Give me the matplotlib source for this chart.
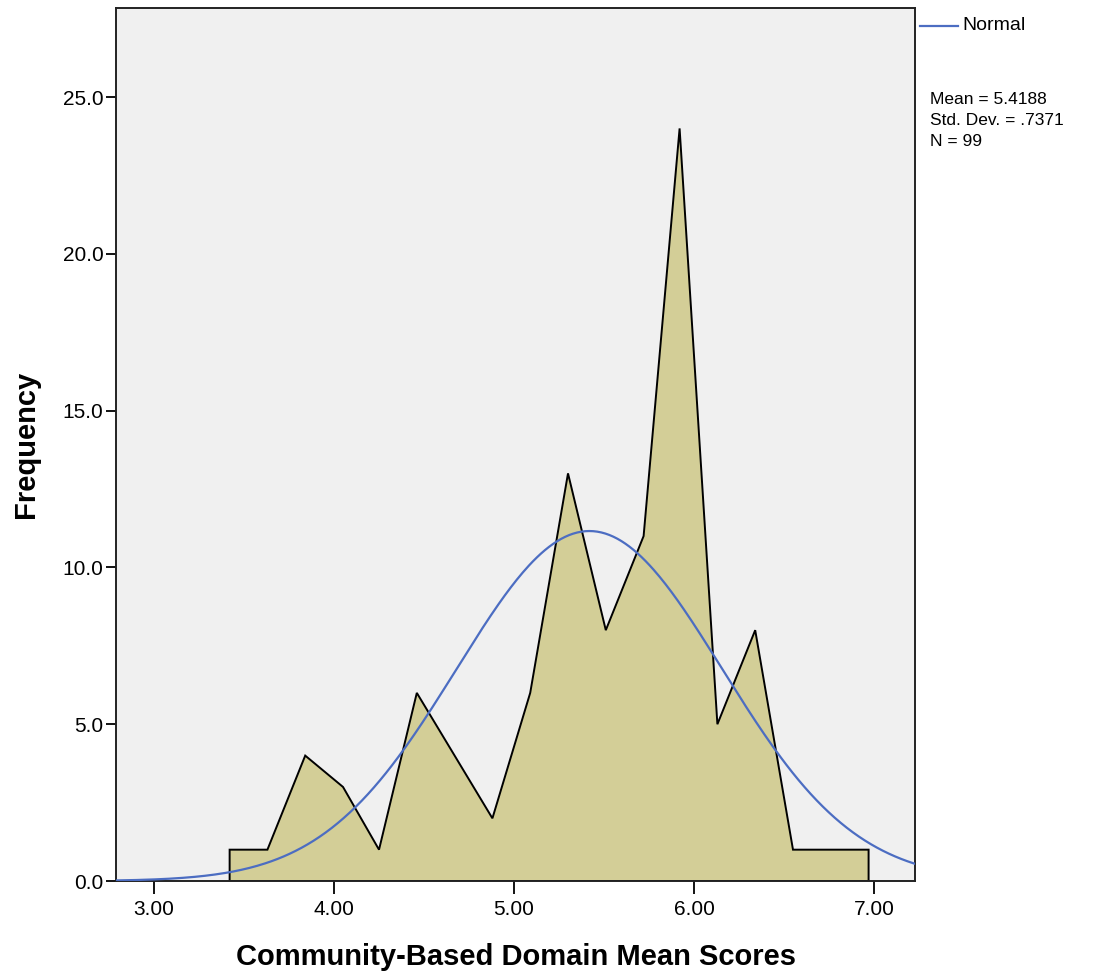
import numpy as np
import matplotlib
matplotlib.use("Agg")
import matplotlib.pyplot as plt

plt.rcParams["font.family"] = ["Liberation Sans", "DejaVu Sans"]

# frequency polygon vertices (mid-points) and counts
mid_points = [3.42, 3.63, 3.84, 4.05, 4.25, 4.46, 4.67, 4.88, 5.09, 5.30,
              5.51, 5.72, 5.92, 6.13, 6.34, 6.55, 6.76, 6.97]
counts = [1, 1, 4, 3, 1, 6, 4, 2, 6, 13, 8, 11, 24, 5, 8, 1, 1, 1]

mean_val = 5.4188
sd_val = 0.7371
n_obs = 99
bin_width = 0.2083

y_ticks = [0, 5, 10, 15, 20, 25]
x_ticks = [3, 4, 5, 6, 7]

fig = plt.figure(figsize=(10.99, 9.76), dpi=100)
ax = fig.add_axes([0.1056, 0.0973, 0.7270, 0.8945])
ax.set_facecolor("#F0F0F0")

xs = np.array(mid_points)
ys = np.array(counts, dtype=float)
poly_x = np.concatenate([[xs[0]], xs, [xs[-1]]])
poly_y = np.concatenate([[0], ys, [0]])
ax.fill(poly_x, poly_y, facecolor="#D3CE97", edgecolor="black", linewidth=1.4,
        joinstyle="miter", zorder=2)

# normal curve scaled to counts
xc = np.linspace(2.78, 7.24, 400)
pdf = np.exp(-0.5 * ((xc - mean_val) / sd_val) ** 2) / (sd_val * np.sqrt(2 * np.pi))
ax.plot(xc, n_obs * bin_width * pdf, color="#4C6DC2", linewidth=1.6, zorder=3)

ax.set_xlim(2.789, 7.228)
ax.set_ylim(0, 27.84)
ax.set_xticks(x_ticks)
ax.set_xticklabels([f"{v:.2f}" for v in x_ticks], fontsize=15)
ax.set_yticks(y_ticks)
ax.set_yticklabels([f"{v:.1f}" for v in y_ticks], fontsize=15)
ax.tick_params(axis="x", direction="out", length=9, width=1.3, pad=5, colors="black")
ax.tick_params(axis="y", direction="out", length=7, width=1.3, pad=2, colors="black")
for sp in ax.spines.values():
    sp.set_linewidth(1.4)
    sp.set_color("#222222")

ax.set_xlabel("Community-Based Domain Mean Scores", fontsize=21, fontweight="bold")
ax.xaxis.set_label_coords(0.5, -0.0865)
ax.xaxis.label.set_va("center")
ax.set_ylabel("Frequency", fontsize=21, fontweight="bold")
ax.yaxis.set_label_coords(-0.113, 0.5)
ax.yaxis.label.set_va("center")

# legend and summary text at the right
fig.add_artist(plt.Line2D([920 / 1099, 958 / 1099], [1 - 26 / 976, 1 - 26 / 976],
                          color="#4C6DC2", linewidth=1.6))
fig.text(962 / 1099, 1 - 26 / 976, "Normal", fontsize=14, va="center", ha="left")
stats = [f"Mean = {mean_val:.4f}", f"Std. Dev. = {str(sd_val)[1:]}", f"N = {n_obs}"]
for i, s in enumerate(stats):
    fig.text(930 / 1099, 1 - (99 + i * 21.5) / 976, s, fontsize=12.5, va="center", ha="left")

fig.savefig("out.png", dpi=100, facecolor="white")
